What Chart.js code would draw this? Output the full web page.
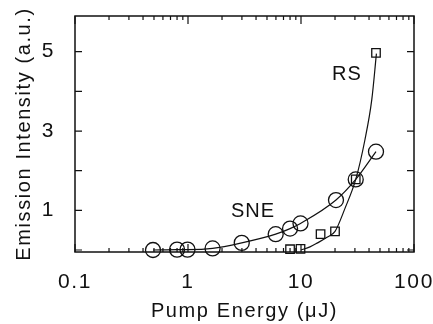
<!DOCTYPE html>
<html>
<head>
<meta charset="utf-8">
<script src="https://cdn.jsdelivr.net/npm/chart.js@4.4.1/dist/chart.umd.min.js"></script>
<style>
  html, body { margin: 0; padding: 0; background: #fff; }
  #wrap { width: 433px; height: 324px; }
</style>
</head>
<body>
<div id="wrap"><canvas id="chart"></canvas></div>
<script>
const sneEnergy = [0.49, 0.80, 0.99, 1.65, 2.99, 5.97, 8.0, 9.9, 20.4, 30.5, 46.1]
const sneIntensity = [0.0, 0.01, 0.01, 0.04, 0.18, 0.40, 0.54, 0.67, 1.26, 1.78, 2.48]
const rsEnergy = [8.0, 9.9, 14.9, 20.0, 30.5, 46.1]
const rsIntensity = [0.02, 0.03, 0.40, 0.47, 1.78, 4.97]
const rsFitEnergy = [10, 12, 14, 17, 20, 24.5, 30.5, 36.8, 42.3, 46.5]
const rsFitIntensity = [0.0, 0.08, 0.18, 0.32, 0.47, 1.05, 1.78, 2.78, 3.79, 4.95]
const xTickLabels = [0.1, 1, 10, 100]
const yTickLabels = [1, 3, 5]
const yTickMarks = [0, 1, 2, 3, 4, 5]
const minorSteps = [2, 3, 4, 5, 6, 7, 8, 9]

const ink = '#111'
const family = '"Liberation Sans", Arial, sans-serif'

const toPoints = (xs, ys) => xs.map((x, i) => ({ x, y: ys[i] }))

// curve names, placed in data coordinates
const curveNames = [
  { text: 'RS', x: 25.5, y: 4.42 },
  { text: 'SNE', x: 3.76, y: 0.98 }
]

const frameAndTicks = {
  id: 'frameAndTicks',
  beforeDraw(chart) {
    chart.ctx.letterSpacing = '1.6px'
  },
  afterDraw(chart) {
    const { ctx, chartArea: a, scales: { x, y } } = chart
    ctx.save()
    ctx.strokeStyle = ink
    ctx.lineWidth = 1.5
    ctx.strokeRect(a.left, a.top, a.right - a.left, a.bottom - a.top)

    ctx.lineWidth = 1.2
    ctx.beginPath()
    const xTick = (v, len) => {
      const px = x.getPixelForValue(v)
      ctx.moveTo(px, a.top); ctx.lineTo(px, a.top + len)
      ctx.moveTo(px, a.bottom); ctx.lineTo(px, a.bottom - len)
    }
    xTickLabels.forEach(d => {
      xTick(d, 8)
      if (d < 100) minorSteps.forEach(m => xTick(d * m, 4))
    })
    yTickMarks.forEach(v => {
      const py = y.getPixelForValue(v)
      ctx.moveTo(a.left, py); ctx.lineTo(a.left + 7, py)
      ctx.moveTo(a.right, py); ctx.lineTo(a.right - 7, py)
    })
    ctx.stroke()

    ctx.fillStyle = ink
    ctx.font = '20px ' + family
    ctx.letterSpacing = '1px'
    ctx.textAlign = 'center'
    ctx.textBaseline = 'middle'
    curveNames.forEach(n => ctx.fillText(n.text, x.getPixelForValue(n.x), y.getPixelForValue(n.y)))
    ctx.restore()
  }
}

new Chart(document.getElementById('chart'), {
  type: 'scatter',
  data: {
    datasets: [
      {
        label: 'SNE',
        data: toPoints(sneEnergy, sneIntensity),
        showLine: true,
        cubicInterpolationMode: 'monotone',
        borderColor: ink,
        borderWidth: 1.2,
        pointStyle: 'circle',
        pointRadius: 7.5,
        pointBorderWidth: 1.3,
        pointBorderColor: ink,
        pointBackgroundColor: 'rgba(0,0,0,0)',
        clip: false
      },
      {
        label: 'RS',
        data: toPoints(rsEnergy, rsIntensity),
        showLine: false,
        pointStyle: 'rect',
        pointRadius: 6,
        pointBorderWidth: 1.3,
        pointBorderColor: ink,
        pointBackgroundColor: 'rgba(0,0,0,0)',
        clip: false
      },
      {
        label: 'RS fit',
        data: toPoints(rsFitEnergy, rsFitIntensity),
        showLine: true,
        cubicInterpolationMode: 'monotone',
        borderColor: ink,
        borderWidth: 1.2,
        pointRadius: 0,
        clip: false
      }
    ]
  },
  options: {
    responsive: true,
    maintainAspectRatio: false,
    animation: false,
    events: [],
    layout: { padding: { left: 0, top: 16, right: 19, bottom: 0 } },
    plugins: { legend: { display: false }, tooltip: { enabled: false } },
    scales: {
      x: {
        type: 'logarithmic',
        min: 0.1,
        max: 100,
        afterBuildTicks: s => { s.ticks = xTickLabels.map(value => ({ value })) },
        afterFit: s => { s.height = 72; s.paddingLeft = 0; s.paddingRight = 0 },
        grid: { display: false, drawTicks: false },
        border: { display: false },
        ticks: {
          callback: v => String(v),
          autoSkip: false,
          maxRotation: 0,
          padding: 18,
          color: ink,
          font: { family, size: 21 }
        },
        title: {
          display: true,
          text: 'Pump Energy (μJ)',
          color: ink,
          font: { family, size: 20 },
          padding: { top: 0, bottom: 1 }
        }
      },
      y: {
        type: 'linear',
        min: -0.05,
        max: 5.9,
        afterBuildTicks: s => { s.ticks = yTickLabels.map(value => ({ value })) },
        afterFit: s => { s.width = 75; s.paddingTop = 0; s.paddingBottom = 0 },
        grid: { display: false, drawTicks: false },
        border: { display: false },
        ticks: {
          padding: 20,
          color: ink,
          font: { family, size: 21 }
        },
        title: {
          display: true,
          text: 'Emission Intensity (a.u.)',
          color: ink,
          font: { family, size: 20 },
          padding: { top: 12, bottom: 0 }
        }
      }
    }
  },
  plugins: [frameAndTicks]
})
</script>
</body>
</html>
